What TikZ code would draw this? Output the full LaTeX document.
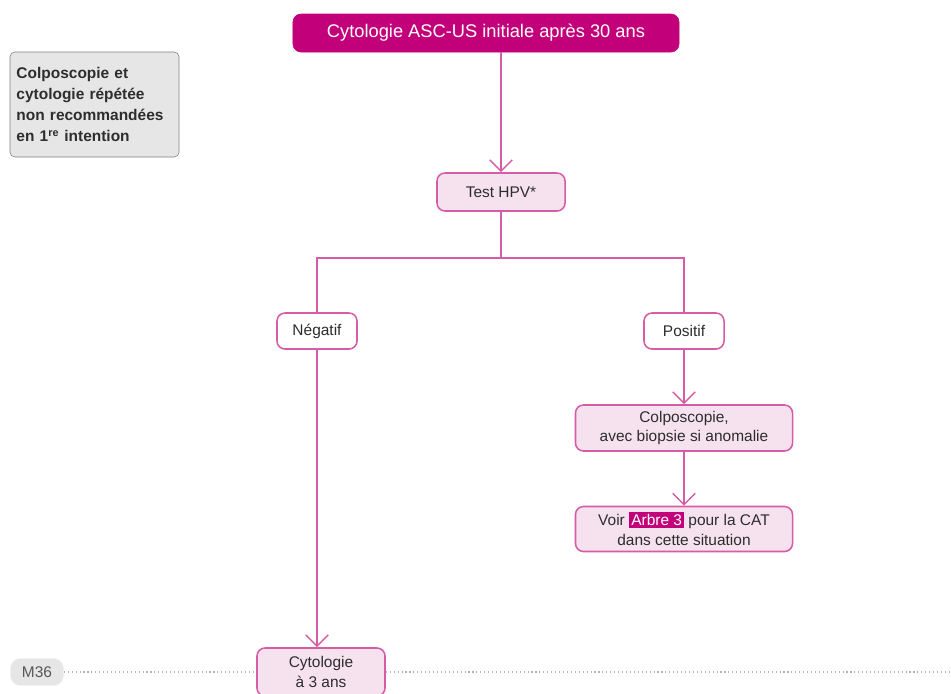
\documentclass[tikz,border=0pt]{standalone}
\usepackage{fontspec}
\setmainfont{Liberation Sans}
\usepackage{tikz}
\usetikzlibrary{arrows.meta}
\usetikzlibrary{calc}
\definecolor{magentadark}{RGB}{194,0,122}
\definecolor{pinkline}{RGB}{214,92,166}
\definecolor{pinkfill}{RGB}{246,226,239}
\definecolor{greyfill}{RGB}{230,230,230}
\definecolor{greyline}{RGB}{130,130,130}
\definecolor{textdark}{RGB}{45,45,45}
\tikzstyle{title} = [rectangle, rounded corners=0.2cm, minimum width=9.65cm, minimum height=0.95cm, text centered, draw=magentadark, fill=magentadark, text=white, font=\fontsize{13}{15}\selectfont]
\tikzstyle{note} = [rectangle, rounded corners=0.12cm, minimum width=4.225cm, minimum height=2.625cm, text width=3.9cm, align=left, draw=greyline, fill=greyfill, text=textdark, font=\fontsize{11}{15}\selectfont\bfseries]
\tikzstyle{process} = [rectangle, rounded corners=0.2cm, minimum width=3.2cm, minimum height=0.95cm, align=center, draw=pinkline, line width=1.1pt, fill=pinkfill, text=textdark, font=\fontsize{11}{14.2}\selectfont]
\tikzstyle{answer} = [rectangle, rounded corners=0.2cm, minimum width=2cm, minimum height=0.9cm, text centered, draw=pinkline, line width=1.1pt, fill=white, text=textdark, font=\fontsize{11}{14}\selectfont]
\tikzstyle{month} = [rectangle, rounded corners=0.25cm, minimum width=1.325cm, minimum height=0.675cm, text centered, draw=greyfill!80!black!20, fill=greyfill, text=textdark!80, font=\fontsize{11}{14}\selectfont]
\tikzstyle{line} = [pinkline, line width=1.1pt]
\tikzstyle{arrow} = [line, -{Straight Barb[length=8pt,width=16pt,line width=1.1pt]}]
\tikzstyle{timeline} = [greyline!60, dotted, line width=0.8pt]
\newcommand{\arbre}[1]{{\setlength{\fboxsep}{1.5pt}\colorbox{magentadark}{\textcolor{white}{#1}}}}

\begin{document}
\begin{tikzpicture}[x=0.025cm,y=-0.025cm]
\useasboundingbox (0,0) rectangle (951,693);

\node (start) [title] at (486,33) {Cytologie ASC-US initiale après 30 ans};
\node (warning) [note] at (94.5,104.5) {Colposcopie et\\cytologie répétée\\non recommandées\\en 1\textsuperscript{re} intention};
\node (hpv) [process] at (501,192) {Test HPV*};
\node (neg) [answer] at (317,331) {Négatif};
\node (pos) [answer] at (684,331) {Positif};
\node (colpo) [process, minimum width=5.425cm, minimum height=1.15cm] at (684,428) {Colposcopie,\\avec biopsie si anomalie};
\node (voir) [process, minimum width=5.425cm, minimum height=1.125cm] at (684,529) {Voir \arbre{Arbre 3} pour la CAT\\dans cette situation};
\node (cyto) [process, minimum height=1.2cm] at (321,672) {Cytologie\\à 3 ans};
\node (m36) [month] at (37,672) {M36};
\coordinate (tlend) at (951,672);

\draw [arrow] (start.south -| hpv.north) -- (hpv.north);
\draw [line] (hpv.south) -- ++(0,46) -| (neg.north);
\draw [line] (hpv.south) -- ++(0,46) -| (pos.north);
\draw [arrow] (neg.south) -- (neg.south |- cyto.north);
\draw [arrow] (pos.south) -- (colpo.north);
\draw [arrow] (colpo.south) -- (voir.north);

\draw [timeline] (m36.east) -- (cyto.west);
\draw [timeline] (cyto.east) -- (tlend);

\end{tikzpicture}
\end{document}
